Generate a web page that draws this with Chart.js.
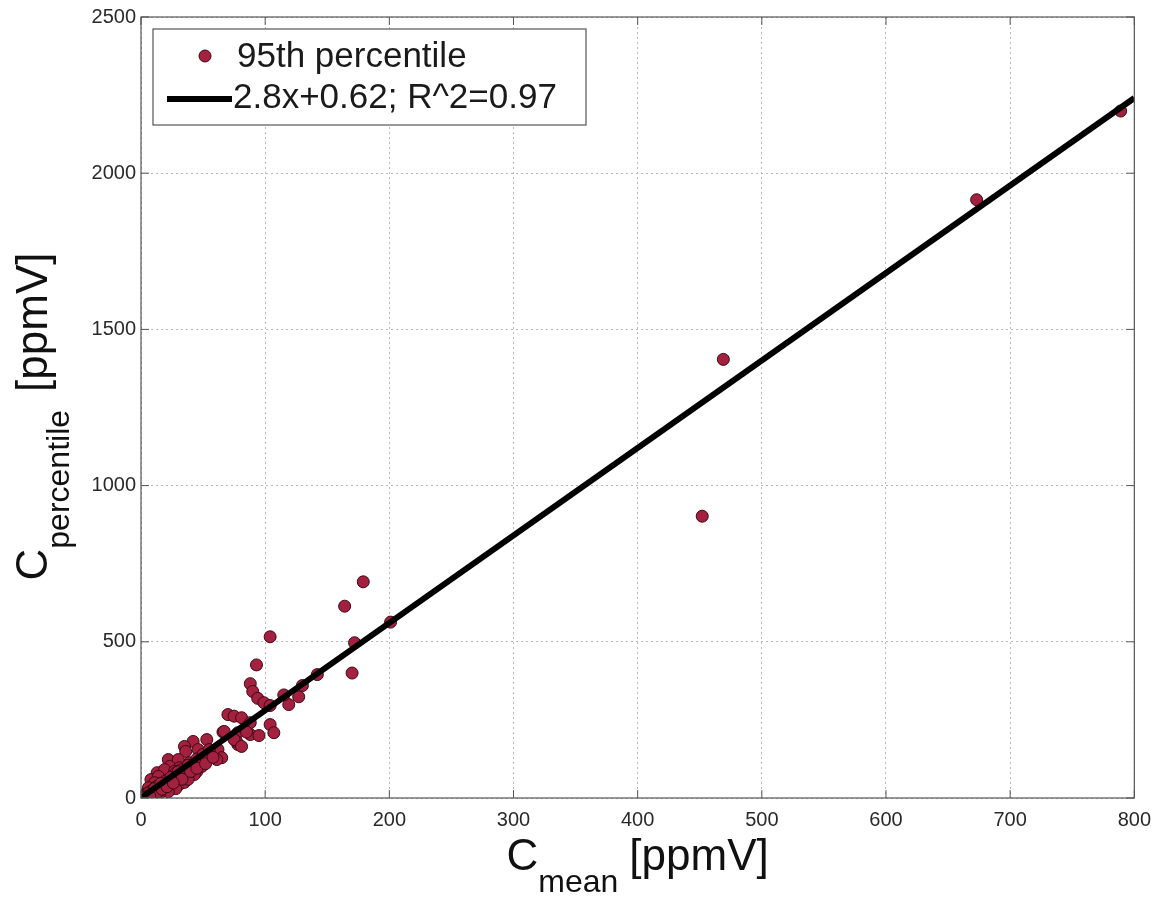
<!DOCTYPE html>
<html>
<head>
<meta charset="utf-8">
<script src="https://cdn.jsdelivr.net/npm/chart.js@4.4.1/dist/chart.umd.min.js"></script>
<style>
  html, body { margin: 0; padding: 0; background: #fff; }
  #wrap { position: relative; width: 1161px; height: 897px; }
</style>
</head>
<body>
<div id="wrap"><canvas id="chart" width="1161" height="897"></canvas></div>
<script>
// 95th percentile concentration vs mean concentration (ppmV)
const cMean = [
  789, 673, 469, 452, 179, 164, 172, 170, 201, 142, 104, 93,
  88, 90, 94, 99, 104, 119, 127, 70, 75, 81, 88, 66, 78, 88, 95, 104, 107, 78, 77, 67,
  75, 81, 85, 60, 62, 65, 55, 42, 53, 35, 46, 36, 61, 47, 45, 49, 39, 22, 30, 23,
  31, 29, 13, 8, 19, 27, 35, 43, 14, 22, 30, 11, 18, 6, 11, 3, 1,
  2, 4, 5, 7, 9, 10, 12, 15, 17, 20, 25, 28, 32, 38, 45, 50, 55, 8, 13, 3,
  6, 1, 11, 16, 24, 30, 115, 130,
  20, 25, 30, 35, 38, 28, 22, 15, 10, 8, 33, 40, 18, 12, 45, 52, 58,
  4, 6, 9, 14, 17, 21, 26, 5, 2, 7
];
const cPercentile = [
  2199, 1915, 1404, 902, 692, 614, 497, 400, 563, 395, 516, 426,
  366, 341, 319, 305, 296, 299, 324, 267, 262, 257, 241, 211, 209, 203, 200, 235, 209, 171, 181, 213,
  187, 165, 211, 150, 155, 129, 133, 181, 187, 165, 155, 149, 123, 117, 85, 101, 113, 123, 123, 101,
  97, 69, 81, 59, 91, 85, 81, 75, 69, 59, 53, 49, 37, 33, 21, 11, 2,
  5, 10, 14, 18, 25, 28, 32, 40, 45, 55, 68, 80, 90, 105, 125, 140, 155, 22, 38, 9,
  16, 3, 30, 47, 66, 84, 330, 360,
  25, 35, 40, 50, 60, 30, 20, 15, 8, 12, 60, 85, 35, 22, 95, 110, 130,
  4, 7, 12, 20, 28, 36, 48, 2, 1, 6
];
// linear fit endpoints: 2.8x+0.62
const fitX = [0, 800];
const fitY = [0.62, 2240.6];
const xTicks = [0, 100, 200, 300, 400, 500, 600, 700, 800];
const yTicks = [0, 500, 1000, 1500, 2000, 2500];

const pointFill = '#a3203f';
const pointEdge = '#3e0714';
const FONT = '"Liberation Sans", Arial, sans-serif';

// box, inward ticks, axis titles and legend, MATLAB style
const matlabDecor = {
  id: 'matlabDecor',
  afterDatasetsDraw(chart) {
    const ctx = chart.ctx;
    const a = chart.chartArea;
    const xs = chart.scales.x, ys = chart.scales.y;
    ctx.save();
    ctx.strokeStyle = '#555';
    ctx.lineWidth = 1.2;
    ctx.strokeRect(a.left, a.top, a.right - a.left, a.bottom - a.top);
    ctx.lineWidth = 1;
    const tl = 8;
    ctx.beginPath();
    xTicks.forEach(v => {
      const px = xs.getPixelForValue(v);
      ctx.moveTo(px, a.bottom); ctx.lineTo(px, a.bottom - tl);
      ctx.moveTo(px, a.top); ctx.lineTo(px, a.top + tl);
    });
    yTicks.forEach(v => {
      const py = ys.getPixelForValue(v);
      ctx.moveTo(a.left, py); ctx.lineTo(a.left + tl, py);
      ctx.moveTo(a.right, py); ctx.lineTo(a.right - tl, py);
    });
    ctx.stroke();
    ctx.restore();
  },
  afterDraw(chart) {
    const ctx = chart.ctx;
    const a = chart.chartArea;
    ctx.save();
    ctx.fillStyle = '#111';
    ctx.textBaseline = 'alphabetic';

    function subTitle(main, sub, unit, gap) {
      ctx.font = '44px ' + FONT;
      const wC = ctx.measureText(main).width;
      const wU = ctx.measureText(unit).width;
      ctx.font = '32px ' + FONT;
      const wS = ctx.measureText(sub).width;
      return { wC, wS, wU, total: wC + wS + gap + wU };
    }
    function drawTitle(main, sub, unit, gap, start) {
      const m = subTitle(main, sub, unit, gap);
      ctx.font = '44px ' + FONT;
      ctx.fillText(main, start, 0);
      ctx.font = '32px ' + FONT;
      ctx.fillText(sub, start + m.wC, 22);
      ctx.font = '44px ' + FONT;
      ctx.fillText(unit, start + m.wC + m.wS + gap, 0);
    }

    // x title
    const gapX = 11;
    const mx = subTitle('C', 'mean', '[ppmV]', gapX);
    ctx.save();
    ctx.translate(0, 870);
    drawTitle('C', 'mean', '[ppmV]', gapX, (a.left + a.right) / 2 - mx.total / 2);
    ctx.restore();

    // y title
    const gapY = 18;
    const my = subTitle('C', 'percentile', '[ppmV]', gapY);
    ctx.save();
    ctx.translate(47, 0);
    ctx.rotate(-Math.PI / 2);
    drawTitle('C', 'percentile', '[ppmV]', gapY, -((a.top + a.bottom) / 2 + 9 + my.total / 2));
    ctx.restore();

    // legend
    const ds = chart.data.datasets;
    const bx = 153, by = 29, bw = 433, bh = 96;
    ctx.fillStyle = '#fff';
    ctx.fillRect(bx, by, bw, bh);
    ctx.strokeStyle = '#555';
    ctx.lineWidth = 1.2;
    ctx.strokeRect(bx, by, bw, bh);

    ctx.beginPath();
    ctx.arc(205, 56, 6, 0, Math.PI * 2);
    ctx.fillStyle = pointFill;
    ctx.fill();
    ctx.strokeStyle = pointEdge;
    ctx.lineWidth = 1;
    ctx.stroke();

    ctx.beginPath();
    ctx.moveTo(167, 99); ctx.lineTo(232, 99);
    ctx.strokeStyle = '#000';
    ctx.lineWidth = 6;
    ctx.stroke();

    ctx.fillStyle = '#1a1a1a';
    ctx.font = '35px ' + FONT;
    ctx.textBaseline = 'middle';
    ctx.fillText(ds[1].label, 237, 57);
    ctx.fillText(ds[0].label, 233, 98);
    ctx.restore();
  }
};

const ctx = document.getElementById('chart').getContext('2d');
const chart = new Chart(ctx, {
  type: 'scatter',
  data: {
    datasets: [
      {
        type: 'line',
        label: '2.8x+0.62; R^2=0.97',
        data: fitX.map((x, i) => ({ x: x, y: fitY[i] })),
        borderColor: '#000',
        borderWidth: 6,
        pointRadius: 0,
        fill: false,
        order: 0
      },
      {
        label: '95th percentile',
        data: cMean.map((x, i) => ({ x: x, y: cPercentile[i] })),
        backgroundColor: pointFill,
        borderColor: pointEdge,
        borderWidth: 1,
        pointRadius: 6,
        order: 1
      }
    ]
  },
  options: {
    responsive: false,
    animation: false,
    devicePixelRatio: 1,
    layout: { padding: { left: 0, right: 24, top: 16, bottom: 0 } },
    plugins: {
      legend: { display: false },
      tooltip: { enabled: false }
    },
    scales: {
      x: {
        type: 'linear',
        min: 0,
        max: 800,
        afterBuildTicks: s => { s.ticks = xTicks.map(v => ({ value: v })); },
        afterFit: s => { s.height = 99; },
        grid: { color: '#b8b8b8', lineWidth: 1, drawTicks: false },
        border: { display: false, dash: [2, 3] },
        ticks: { color: '#2a2a2a', font: { family: FONT, size: 20 }, padding: 10, maxRotation: 0,
                 callback: v => String(v) }
      },
      y: {
        type: 'linear',
        min: 0,
        max: 2500,
        afterBuildTicks: s => { s.ticks = yTicks.map(v => ({ value: v })); },
        afterFit: s => { s.width = 141; },
        grid: { color: '#b8b8b8', lineWidth: 1, drawTicks: false },
        border: { display: false, dash: [2, 3] },
        ticks: { color: '#2a2a2a', font: { family: FONT, size: 20 }, padding: 5,
                 callback: v => String(v) }
      }
    }
  },
  plugins: [matlabDecor]
});
</script>
</body>
</html>
